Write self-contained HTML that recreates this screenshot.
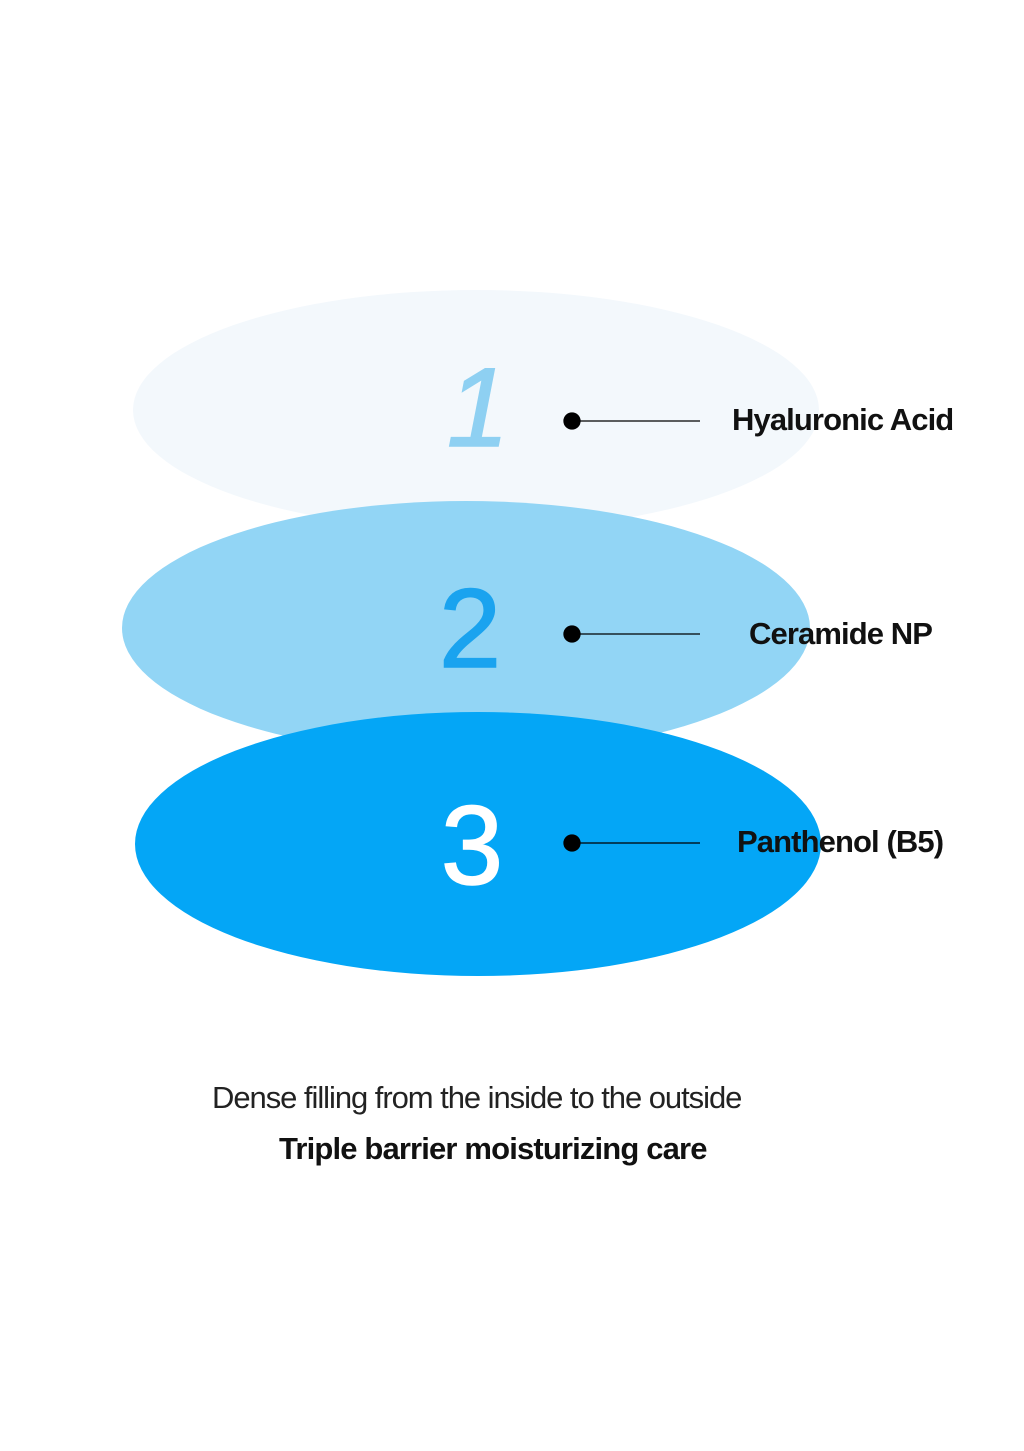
<!DOCTYPE html>
<html><head><style>
html,body{margin:0;padding:0;background:#fff;}
body{width:1024px;height:1451px;position:relative;overflow:hidden;font-family:"Liberation Sans",sans-serif;}
.t{position:absolute;color:#111;white-space:nowrap;}
</style></head><body>
<svg width="1024" height="1451" style="position:absolute;left:0;top:0">
<ellipse cx="476" cy="410" rx="343" ry="120" fill="#f3f8fc"/>
<ellipse cx="466" cy="628" rx="344" ry="127" fill="#92d5f5"/>
<ellipse cx="478" cy="844" rx="343" ry="132" fill="#04a6f6"/>
<text x="478" y="446" font-family="Liberation Sans" font-size="112" font-style="italic" fill="#8ed0f2" stroke="#8ed0f2" stroke-width="1.5" text-anchor="middle">1</text>
<text x="470" y="667" font-family="Liberation Sans" font-size="112" fill="#1aa3ef" stroke="#1aa3ef" stroke-width="1.5" text-anchor="middle">2</text>
<text x="472" y="884" font-family="Liberation Sans" font-size="112" fill="#ffffff" stroke="#ffffff" stroke-width="1.5" text-anchor="middle">3</text>
<g fill="#000" stroke="#000" stroke-width="1.3">
<circle cx="572" cy="421" r="8"/><line x1="572" y1="421" x2="700" y2="421"/>
<circle cx="572" cy="634" r="8"/><line x1="572" y1="634" x2="700" y2="634"/>
<circle cx="572" cy="843" r="8"/><line x1="572" y1="843" x2="700" y2="843"/>
</g>
</svg>
<div class="t" style="left:732px;top:402px;font-size:31px;font-weight:bold;letter-spacing:-0.9px">Hyaluronic Acid</div>
<div class="t" style="left:749px;top:616px;font-size:31px;font-weight:bold;letter-spacing:-0.9px">Ceramide NP</div>
<div class="t" style="left:737px;top:824px;font-size:31px;font-weight:bold;letter-spacing:-0.9px">Panthenol (B5)</div>
<div class="t" style="left:212px;top:1080px;font-size:31px;letter-spacing:-1.05px;color:#222">Dense filling from the inside to the outside</div>
<div class="t" style="left:279px;top:1131px;font-size:31px;font-weight:bold;letter-spacing:-0.85px">Triple barrier moisturizing care</div>
</body></html>
